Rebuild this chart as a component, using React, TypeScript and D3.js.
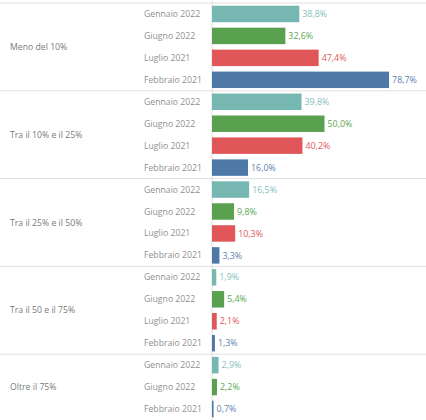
import React from "react";
import * as d3 from "d3";

const groups = ["Meno del 10%", "Tra il 10% e il 25%", "Tra il 25% e il 50%", "Tra il 50 e il 75%", "Oltre il 75%"];
const periods = ["Gennaio 2022", "Giugno 2022", "Luglio 2021", "Febbraio 2021"];
const gennaio2022 = [38.8, 39.8, 16.5, 1.9, 2.9];
const giugno2022 = [32.6, 50.0, 9.8, 5.4, 2.2];
const luglio2021: (number | null)[] = [47.4, 40.2, 10.3, 2.1, null];
const febbraio2021 = [78.7, 16.0, 3.3, 1.3, 0.7];
const colors = ["#76b7b2", "#59a14f", "#e15759", "#4e79a7"];
const labelColors = ["#86c0bb", "#5ea654", "#e15759", "#5b83b0"];

type Row = { group: number; period: number; value: number; idx: number };

export default function App() {
  const W = 426, H = 420;
  const series = [gennaio2022, giugno2022, luglio2021, febbraio2021];
  const rows: Row[] = [];
  const groupRange: { start: number; end: number }[] = [];
  groups.forEach((_, g) => {
    const start = rows.length;
    periods.forEach((_, p) => {
      const v = series[p][g];
      if (v !== null && v !== undefined) rows.push({ group: g, period: p, value: v as number, idx: rows.length });
    });
    groupRange.push({ start, end: rows.length });
  });
  const y = d3.scaleBand<number>().domain(rows.map((r) => r.idx)).range([3, 420]).paddingInner(0.25).paddingOuter(0.125);
  const step = y.step();
  const x = d3.scaleLinear().domain([0, 100]).range([212, 437]);
  const top = (i: number) => 3 + i * step;
  const font = "'Open Sans', sans-serif";
  const fmt = (v: number) => d3.format(".1f")(v).replace(".", ",") + "%";

  return (
    <svg width={W} height={H} style={{ position: "absolute", left: 0, top: 0, background: "#fff" }} fontFamily={font}>
      {groupRange.map((gr, g) => (
        <line key={"sep" + g} x1={0} x2={W} y1={top(gr.start)} y2={top(gr.start)} stroke="#e0e0e0" strokeWidth={1} />
      ))}
      <line x1={x(0)} x2={x(0)} y1={0} y2={H} stroke="#dcdcdc" strokeWidth={1} />
      {groupRange.map((gr, g) => (
        <text key={"g" + g} x={10} y={(top(gr.start) + top(gr.end)) / 2} dy="0.35em" fontSize={8.7} fill="#7a7a7a">
          {groups[g]}
        </text>
      ))}
      {rows.map((r) => {
        const cy = (y(r.idx) as number) + y.bandwidth() / 2;
        return (
          <g key={"r" + r.idx}>
            <text x={144} y={cy} dy="0.35em" fontSize={8.7} fill="#8f8f8f">
              {periods[r.period]}
            </text>
            <rect x={x(0)} y={y(r.idx)} width={x(r.value) - x(0)} height={y.bandwidth()} fill={colors[r.period]} />
            <text x={x(r.value) + 3} y={cy} dy="0.35em" fontSize={8.9} fill={labelColors[r.period]}>
              {fmt(r.value)}
            </text>
          </g>
        );
      })}
    </svg>
  );
}
